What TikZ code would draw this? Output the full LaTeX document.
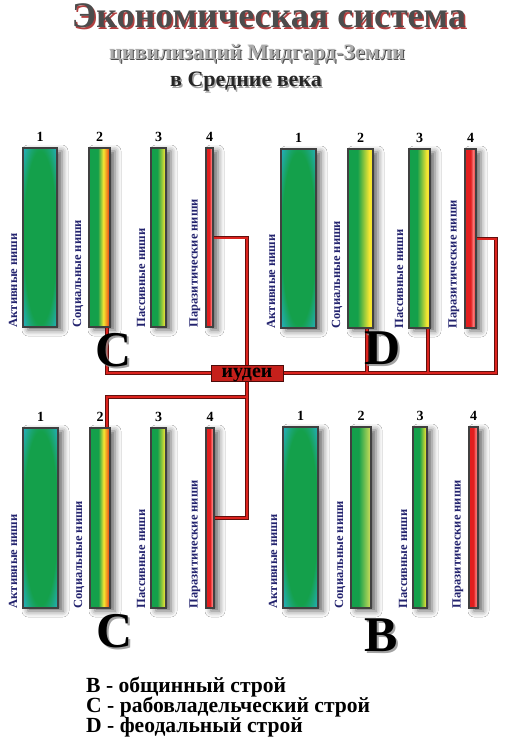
\documentclass[tikz,border=0pt]{standalone}
\usepackage{fontspec}
\setmainfont{Liberation Serif}
\usetikzlibrary{positioning,shadows,shadows.blur}
\definecolor{leafgreen}{RGB}{20,160,75}
\definecolor{tealblue}{RGB}{40,175,200}
\definecolor{sun}{RGB}{245,230,50}
\definecolor{paleSun}{RGB}{215,225,90}
\definecolor{ember}{RGB}{240,130,30}
\definecolor{flame}{RGB}{225,30,30}
\definecolor{pinkFlame}{RGB}{250,120,120}
\definecolor{navy}{RGB}{35,35,110}
\definecolor{wire}{RGB}{220,35,30}
% niche fills
\pgfdeclareradialshading{activeN}{\pgfpoint{0bp}{0bp}}{color(0bp)=(leafgreen); color(24bp)=(leafgreen); color(36bp)=(tealblue); color(50bp)=(tealblue)}
\pgfdeclarehorizontalshading{socC}{100bp}{color(0bp)=(leafgreen); color(25bp)=(leafgreen); color(46bp)=(leafgreen); color(59bp)=(sun); color(68bp)=(ember); color(75bp)=(flame); color(100bp)=(flame)}
\pgfdeclarehorizontalshading{pasC}{100bp}{color(0bp)=(leafgreen); color(25bp)=(leafgreen); color(46bp)=(leafgreen); color(72bp)=(sun); color(100bp)=(sun)}
\pgfdeclarehorizontalshading{socD}{100bp}{color(0bp)=(leafgreen); color(25bp)=(leafgreen); color(44bp)=(leafgreen); color(67bp)=(sun); color(71bp)=(sun); color(75bp)=(ember); color(100bp)=(ember)}
\pgfdeclarehorizontalshading{socB}{100bp}{color(0bp)=(leafgreen); color(25bp)=(leafgreen); color(44bp)=(leafgreen); color(75bp)=(paleSun); color(100bp)=(paleSun)}
\pgfdeclarehorizontalshading{pasB}{100bp}{color(0bp)=(leafgreen); color(25bp)=(leafgreen); color(48bp)=(leafgreen); color(72bp)=(sun); color(100bp)=(sun)}
\pgfdeclarehorizontalshading{parN}{100bp}{color(0bp)=(flame); color(25bp)=(flame); color(50bp)=(flame); color(62bp)=(pinkFlame); color(75bp)=(flame); color(100bp)=(flame)}
\tikzset{
  niche/.style={draw=black!75,line width=1.1pt,inner sep=0pt,shading=#1,
    blur shadow={shadow xshift=5pt,shadow yshift=-3pt,shadow blur radius=6pt,shadow opacity=60}},
  niche label/.style={rotate=90,anchor=south west,inner sep=0pt,text=navy,
    font=\fontsize{12.5}{12.5}\selectfont\bfseries},
  num/.style={inner sep=0pt,font=\fontsize{14}{14}\selectfont\bfseries},
  era/.style={inner sep=0pt,font=\fontsize{50}{50}\selectfont\bfseries},
  era halo/.style={era,text=black!45,opacity=0.8},
  wire base/.style={draw=wire!45!black,line width=3.4pt},
  wire core/.style={draw=wire,line width=2pt},
  idea/.style={fill=wire!90!black,draw=wire!35!black,line width=1pt,minimum width=72pt,
    minimum height=16pt,inner sep=0pt,text height=9pt,text depth=1pt,
    font=\fontsize{20}{20}\selectfont\bfseries},
  headline/.style={anchor=base,inner sep=0pt,text=black!70,font=\fontsize{36}{36}\selectfont\bfseries},
  headline halo/.style={headline,text=red!60!black,opacity=0.75},
  subhead/.style={anchor=base,inner sep=0pt,text=gray!65,font=\fontsize{22}{22}\selectfont\bfseries},
  subhead halo/.style={subhead,text=black!70},
  period/.style={anchor=base,inner sep=0pt,text=black!85,font=\fontsize{22}{22}\selectfont\bfseries},
  period halo/.style={period,text=black!35},
  legend/.style={anchor=base west,inner sep=0pt,font=\fontsize{21.6}{21.6}\selectfont\bfseries},
}
\begin{document}
\begin{tikzpicture}[x=1pt,y=-1pt]
  \useasboundingbox[fill=white] (0,0) rectangle (505,741);
  % heading
  \node[headline halo] (titleHalo) at (270.5,29.5) {Экономическая система};
  \node[headline] (title) at (269,28) {Экономическая система};
  \node[subhead halo] (subHalo) at (258,61) {цивилизаций Мидгард-Земли};
  \node[subhead] (sub) at (257,60) {цивилизаций Мидгард-Земли};
  \node[period halo] (periodHalo) at (247.5,88.5) {в Средние века};
  \node[period] (period) at (246,87) {в Средние века};
  % the four panels of niches
  \foreach \p/\k/\x/\y/\w/\h/\s/\lbl in {
      tl/1/40/237.5/34/179/activeN/Активные ниши,
      tl/2/99.5/237.5/21/179/socC/Социальные ниши,
      tl/3/158.5/237.5/15/179/pasC/Пассивные ниши,
      tl/4/209.5/237.5/7/179/parN/Паразитические ниши,
      tr/1/298.5/238.5/35/179/activeN/Активные ниши,
      tr/2/360.5/238.5/25/179/socD/Социальные ниши,
      tr/3/419.5/238.5/21/179/socD/Пассивные ниши,
      tr/4/470.5/238.5/11/179/parN/Паразитические ниши,
      bl/1/40.5/518/35/180/activeN/Активные ниши,
      bl/2/100/518/20/180/socC/Социальные ниши,
      bl/3/158.5/518/15/180/pasC/Пассивные ниши,
      bl/4/210/518/8/180/parN/Паразитические ниши,
      br/1/300.5/517.5/35/181/activeN/Активные ниши,
      br/2/361/517.5/20/181/socB/Социальные ниши,
      br/3/420/517.5/14/181/pasB/Пассивные ниши,
      br/4/473.5/517.5/9/181/parN/Паразитические ниши}{
    \node[niche=\s,minimum width=\w,minimum height=\h] (\p\k) at (\x,\y) {};
    \node[num,above=6pt of \p\k] (\p\k num) {\k};
    \node[niche label] (\p\k lbl) at ([xshift=-5pt]\p\k.south west) {\lbl};
  }
  % idea box and its links
  \node[idea] (idea) at (247,373) {иудеи};
  \coordinate (rj) at (496,300);
  \coordinate (jn) at (247,397);
  \coordinate (tl2d) at ([xshift=7.5pt]tl2.south);
  \coordinate (tr2d) at ([xshift=6.5pt]tr2.south);
  \coordinate (tr3d) at ([xshift=8.5pt]tr3.south);
  \coordinate (bl2u) at ([xshift=7pt]bl2.north);
  \foreach \lay in {wire base,wire core}{
    \draw[\lay] (tl4.east) -| (idea.north);
    \draw[\lay] (tl2d) |- (idea.west);
    \draw[\lay] (idea.east) -| (rj) |- (tr4.east);
    \draw[\lay] (tr2d) -- (tr2d |- idea.east);
    \draw[\lay] (tr3d) -- (tr3d |- idea.east);
    \draw[\lay] (idea.south) |- (bl4.east);
    \draw[\lay] (bl2u) |- (jn);
  }
  \node[idea] (idea) at (247,373) {иудеи};
  % system letters
  \foreach \n/\l/\x/\y in {cTop/C/114/350,dTop/D/383/348,cLow/C/115/631,bLow/B/381/635}{
    \node[era halo] (\n Halo) at (\x+2,\y+2) {\l};
    \node[era] (\n) at (\x,\y) {\l};
  }
  % legend
  \node[legend] (legB) at (86,692) {B - общинный строй};
  \node[legend] (legC) at (86,712) {C - рабовладельческий строй};
  \node[legend] (legD) at (86,732) {D - феодальный строй};
\end{tikzpicture}
\end{document}
